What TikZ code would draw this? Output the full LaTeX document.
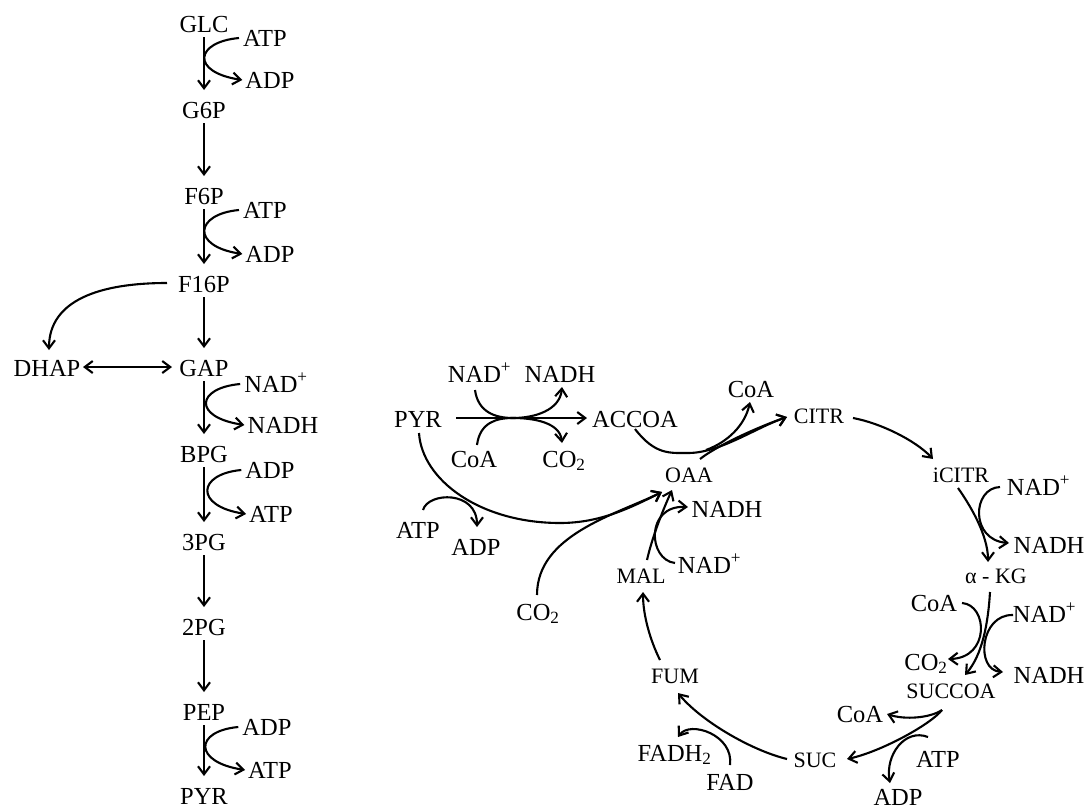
\documentclass[tikz,border=0pt]{standalone}
\usepackage{fontspec}
\setmainfont{Liberation Serif}
\usetikzlibrary{arrows.meta}
\newcommand\bigf{\fontsize{24.5}{28}\selectfont}
\newcommand\smallf{\fontsize{22}{26}\selectfont}
\begin{document}
\begin{tikzpicture}[x=1pt,y=-1pt,
  big/.style={font=\bigf,inner sep=0pt,anchor=base},
  sml/.style={font=\smallf,inner sep=0pt,anchor=base},
  arr/.style={line width=2.1pt,line join=round,-{Straight Barb[length=8pt,width=12pt]}},
  dbl/.style={line width=2.1pt,line join=round,{Straight Barb[length=8pt,width=12pt]}-{Straight Barb[length=8pt,width=12pt]}}]
\useasboundingbox (0,0) rectangle (1087,809);
% glycolysis
\node[big] (glc) at (204,32) {GLC};
\node[big] (atpA) at (265,46) {ATP};
\node[big] (adpA) at (270,88) {ADP};
\node[big] (g6p) at (204,118) {G6P};
\node[big] (f6p) at (204,204) {F6P};
\node[big] (atpB) at (265,218) {ATP};
\node[big] (adpB) at (270,262) {ADP};
\node[big] (f16p) at (204,292) {F16P};
\node[big] (dhap) at (47,376) {DHAP};
\node[big] (gap) at (204,376) {GAP};
\node[big] (nadA) at (276,392) {NAD\textsuperscript{+}};
\node[big] (nadhA) at (283,433) {NADH};
\node[big] (bpg) at (204,462) {BPG};
\node[big] (adpC) at (270,478) {ADP};
\node[big] (atpC) at (271,522) {ATP};
\node[big] (pgc) at (204,550) {3PG};
\node[big] (pgb) at (204,635) {2PG};
\node[big] (pep) at (204,720) {PEP};
\node[big] (adpD) at (267,735) {ADP};
\node[big] (atpD) at (270,778) {ATP};
\node[big] (pyrA) at (204,804) {PYR};
% PDH and TCA
\node[big] (pyrB) at (418,427) {PYR};
\node[big] (nadB) at (479.5,382) {NAD\textsuperscript{+}};
\node[big] (nadhB) at (560,382) {NADH};
\node[big] (accoa) at (635,427) {ACCOA};
\node[big] (coaA) at (474,467) {CoA};
\node[big] (co2A) at (564,467) {CO\textsubscript{2}};
\node[big] (atpE) at (418,538) {ATP};
\node[big] (adpE) at (476,555) {ADP};
\node[big] (co2B) at (538,620) {CO\textsubscript{2}};
\node[sml] (oaa) at (689,482) {OAA};
\node[big] (nadhC) at (727,517) {NADH};
\node[big] (nadC) at (709.5,573) {NAD\textsuperscript{+}};
\node[sml] (mal) at (641,583) {MAL};
\node[big] (coaB) at (751,397) {CoA};
\node[sml] (citr) at (819,423) {CITR};
\node[sml] (icitr) at (961,482) {iCITR};
\node[big] (nadD) at (1038.5,495) {NAD\textsuperscript{+}};
\node[big] (nadhD) at (1049,553) {NADH};
\node[sml] (akg) at (996,583) {α - KG};
\node[big] (coaC) at (934,611) {CoA};
\node[big] (nadE) at (1044.5,622) {NAD\textsuperscript{+}};
\node[big] (co2C) at (926,670) {CO\textsubscript{2}};
\node[big] (nadhE) at (1049,683) {NADH};
\node[sml] (succoa) at (951,698) {SUCCOA};
\node[big] (coaD) at (860,722) {CoA};
\node[sml] (suc) at (815,767) {SUC};
\node[big] (atpF) at (938,767) {ATP};
\node[big] (adpF) at (898,805) {ADP};
\node[sml] (fum) at (675,683) {FUM};
\node[big] (fadh) at (674.5,761) {FADH\textsubscript{2}};
\node[big] (fad) at (730,790) {FAD};
% glycolysis main arrows
\foreach \a/\b in {glc/g6p,g6p/f6p,f6p/f16p,f16p/gap,gap/bpg,bpg/pgc,pgc/pgb,pgb/pep,pep/pyrA}
  \draw[arr] ([shift={(0,5)}]\a.base) -- ([shift={(0,-28)}]\b.base);
% side cofactors
\foreach \a/\b in {atpA/adpA,atpB/adpB,nadA/nadhA,adpC/atpC,adpD/atpD}
  \draw[arr] ([shift={(-4,-8)}]\a.base west) .. controls +(-44,4) and +(-52,-8) .. ([shift={(-3,-8)}]\b.base west);
\draw[arr] ([shift={(-37,-9)}]f16p.base) .. controls (100,283) and (49,300) .. ([shift={(2,-26)}]dhap.base);
\draw[dbl] ([shift={(36,-9)}]dhap.base) -- ([shift={(-32,-9)}]gap.base);
% PDH
\draw[arr] ([shift={(38,-9)}]pyrB.base) -- ([shift={(-48,-9)}]accoa.base);
\draw[arr] ([shift={(-4.5,8)}]nadB.base) .. controls (478,412) and (495,418) .. (513,418) .. controls (535,418) and (560,410) .. ([shift={(2,5)}]nadhB.base);
\draw[arr] ([shift={(3,-22)}]coaA.base) .. controls (480,422) and (497,418) .. (513,418) .. controls (535,418) and (560,423) .. ([shift={(-2,-24)}]co2A.base);
\draw[arr] ([shift={(1,6)}]pyrB.base) .. controls (422,480) and (480,523) .. (560,523) .. controls (600,523) and (630,508) .. ([shift={(-27,10)}]oaa.base);
\draw[arr] ([shift={(-1,-25)}]co2B.base) .. controls (537,535) and (615,515) .. ([shift={(-27,10)}]oaa.base);
\draw[arr] ([shift={(5,-28)}]atpE.base) .. controls (428,492) and (477,490) .. ([shift={(1,-28)}]adpE.base);
% TCA
\draw[arr] ([shift={(6,-23)}]mal.base) .. controls (652,538) and (662,512) .. ([shift={(-17,8)}]oaa.base);
\draw[arr] ([shift={(-34.5,-10)}]nadC.base) .. controls (648,560) and (645,505) .. ([shift={(-39,-10)}]nadhC.base);
\draw[arr] ([shift={(0,2)}]accoa.base) .. controls (655,455) and (670,453) .. (688,453) .. controls (720,453) and (755,428) .. ([shift={(-32,-6)}]citr.base);
\draw[arr] ([shift={(11,-23)}]oaa.base) .. controls (715,447) and (755,428) .. ([shift={(-32,-6)}]citr.base);
\coordinate (jA) at (706,450);
\draw[arr] (jA) .. controls (728,442) and (745,425) .. ([shift={(-1,5)}]coaB.base);
\draw[arr] ([shift={(34,-5)}]citr.base) .. controls (880,423) and (915,440) .. ([shift={(-28,-23)}]icitr.base);
\draw[arr] ([shift={(-3,6)}]icitr.base) .. controls (970,505) and (988,535) .. ([shift={(-8,-21)}]akg.base);
\draw[arr] ([shift={(-38.5,-8)}]nadD.base) .. controls (972,488) and (970,540) .. ([shift={(-40,-10)}]nadhD.base);
\draw[arr] ([shift={(-6,9)}]akg.base) .. controls (988,625) and (982,655) .. ([shift={(14,-23)}]succoa.base);
\draw[arr] ([shift={(28,-8)}]coaC.base) .. controls (988,605) and (990,658) .. ([shift={(22,-11)}]co2C.base);
\draw[arr] ([shift={(-31.5,-7)}]nadE.base) .. controls (980,614) and (975,670) .. ([shift={(-46,-11)}]nadhE.base);
\draw[arr] ([shift={(-9,12)}]succoa.base) .. controls (930,725) and (880,752) .. ([shift={(32,-8)}]suc.base);
\draw[arr] ([shift={(-9,12)}]succoa.base) .. controls (930,718) and (905,720) .. ([shift={(27,-8)}]coaD.base);
\draw[arr] ([shift={(-10,-30)}]atpF.base) .. controls (905,728) and (885,755) .. ([shift={(-8,-22)}]adpF.base);
\draw[arr] ([shift={(-28,-8)}]suc.base) .. controls (750,750) and (700,720) .. ([shift={(3,10)}]fum.base);
\draw[arr] ([shift={(0,-25)}]fad.base) .. controls (734,735) and (690,720) .. ([shift={(3.5,-24)}]fadh.base);
\draw[arr] ([shift={(-15,-23)}]fum.base) .. controls (650,640) and (643,615) .. ([shift={(2,9)}]mal.base);
\end{tikzpicture}
\end{document}
